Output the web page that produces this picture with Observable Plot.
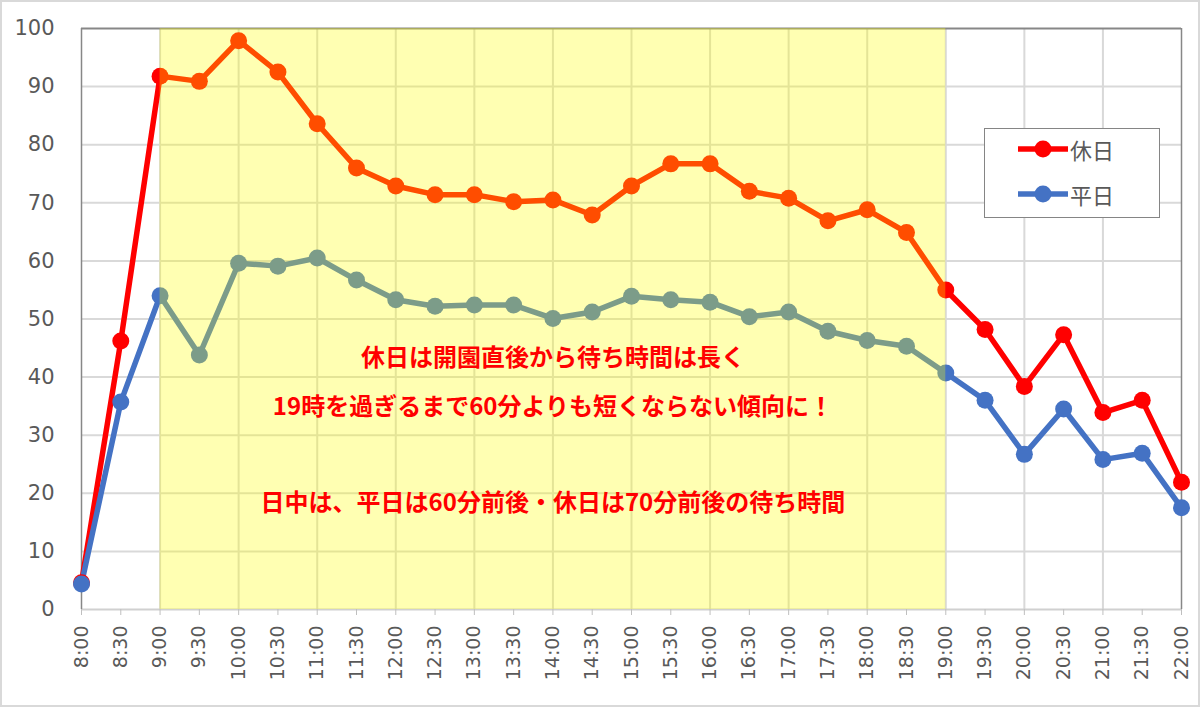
<!DOCTYPE html>
<html>
<head>
<meta charset="utf-8">
<script src="https://cdn.jsdelivr.net/npm/d3@7"></script>
<script src="https://cdn.jsdelivr.net/npm/@observablehq/plot@0.6"></script>
<style>
  html, body { margin: 0; padding: 0; background: #fff; }
  #wrap { position: relative; width: 1200px; height: 707px; overflow: hidden; }
  #border { position: absolute; left: 0; top: 0; width: 1200px; height: 707px; box-sizing: border-box; border: 2px solid #d9d9d9; pointer-events: none; }
  #legend { position: absolute; left: 984px; top: 128px; width: 176px; height: 90px; box-sizing: border-box; border: 1.5px solid #858585; background: #fff; font-family: "Noto Sans CJK JP", sans-serif; font-size: 22px; color: #595959; }
  .row { position: absolute; left: 33px; display: flex; align-items: center; height: 30px; }
  .row svg { display: block; }
  .row span { margin-left: 2px; line-height: 30px; }
</style>
</head>
<body>
<div id="wrap"><div id="chart"></div><div id="legend"></div><div id="border"></div></div>
<script>
const times = ["8:00","8:30","9:00","9:30","10:00","10:30","11:00","11:30","12:00","12:30","13:00","13:30","14:00","14:30","15:00","15:30","16:00","16:30","17:00","17:30","18:00","18:30","19:00","19:30","20:00","20:30","21:00","21:30","22:00"];
const holiday = [4.6,46.2,91.8,90.9,97.9,92.5,83.6,76.0,72.9,71.4,71.4,70.2,70.5,67.9,72.9,76.7,76.7,72.0,70.8,66.9,68.8,64.9,55.0,48.2,38.4,47.3,33.9,36.0,21.9];
const weekday = [4.4,35.7,54.0,43.8,59.6,59.1,60.5,56.7,53.3,52.2,52.4,52.4,50.1,51.2,53.9,53.3,52.9,50.4,51.2,47.9,46.3,45.3,40.7,36.0,26.7,34.5,25.8,26.9,17.5];
const seriesNames = ["休日","平日"];
const seriesColors = ["#ff0000","#4472c4"];
const yTicks = [0,10,20,30,40,50,60,70,80,90,100];
const hourTimes = times.filter(t => t.endsWith(":00"));
const bandStart = "9:00", bandEnd = "19:00";
const notes = [
  {x: "14:00", y: 43.2, text: "休日は開園直後から待ち時間は長く"},
  {x: "14:00", y: 34.8, text: "19時を過ぎるまで60分よりも短くならない傾向に！"},
  {x: "14:00", y: 18.3, text: "日中は、平日は60分前後・休日は70分前後の待ち時間"}
];

const rows = [];
times.forEach((t, i) => {
  rows.push({time: t, value: holiday[i], series: seriesNames[0]});
});
times.forEach((t, i) => {
  rows.push({time: t, value: weekday[i], series: seriesNames[1]});
});

const chart = Plot.plot({
  width: 1200,
  height: 707,
  marginLeft: 81,
  marginRight: 19,
  marginTop: 28,
  marginBottom: 98,
  style: {fontFamily: "DejaVu Sans, sans-serif", background: "transparent"},
  x: {type: "point", domain: times, padding: 0, round: false},
  y: {domain: [0, 100]},
  color: {domain: seriesNames, range: seriesColors},
  marks: [
    Plot.ruleY(yTicks.filter(d => d > 0 && d < 100), {stroke: "#d9d9d9", strokeWidth: 2}),
    Plot.ruleX(hourTimes.slice(1, -1), {y1: 0, y2: 100, stroke: "#d9d9d9", strokeWidth: 2}),
    Plot.ruleY([0], {stroke: "#d0d0d0", strokeWidth: 2}),
    Plot.ruleY([100], {stroke: "#878787", strokeWidth: 2}),
    Plot.ruleX([times[0], times[times.length - 1]], {y1: 0, y2: 100, stroke: "#878787", strokeWidth: 1.5}),
    Plot.axisX({tickRotate: -90, tickSize: 6, tickPadding: 10, stroke: "#bfbfbf", fill: "#595959", fontSize: 19, label: null}),
    Plot.axisY({ticks: yTicks, tickSize: 0, tickPadding: 27, fill: "#595959", fontSize: 21, label: null}),
    Plot.line(rows, {x: "time", y: "value", stroke: "series", z: "series", strokeWidth: 5.5}),
    Plot.dot(rows, {x: "time", y: "value", fill: "series", r: 8.5}),
    Plot.rect([{x1: bandStart, x2: bandEnd}], {x1: "x1", x2: "x2", y1: 0, y2: 100, fill: "#ffff00", fillOpacity: 0.3}),
    Plot.text(notes, {x: "x", y: "y", text: "text", fill: "#ff0000", fontSize: 24, fontWeight: "bold", fontFamily: "Noto Sans CJK JP", textAnchor: "middle"})
  ]
});
document.getElementById("chart").appendChild(chart);

const legend = document.getElementById("legend");
seriesNames.forEach((name, i) => {
  const row = document.createElement("div");
  row.className = "row";
  row.style.top = (i === 0 ? 5 : 50) + "px";
  row.innerHTML = `<svg width="50" height="30"><line x1="1" y1="15" x2="49" y2="15" stroke="${seriesColors[i]}" stroke-width="5.5" stroke-linecap="round"/><circle cx="25" cy="15" r="8.5" fill="${seriesColors[i]}"/></svg><span>${name}</span>`;
  legend.appendChild(row);
});
</script>
</body>
</html>
